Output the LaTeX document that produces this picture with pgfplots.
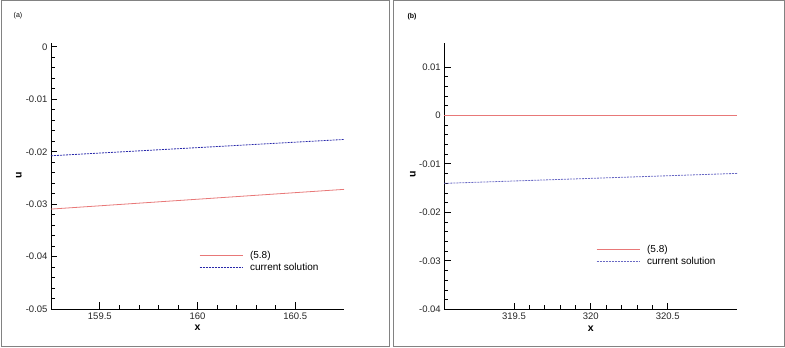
\documentclass[border=0pt]{standalone}
\usepackage{fontspec}
\setmainfont{Liberation Sans}
\usepackage{pgfplots}
\pgfplotsset{compat=1.18}
\definecolor{redl}{RGB}{232,120,120}
\definecolor{bluel}{RGB}{40,40,170}
\definecolor{frame}{RGB}{130,130,130}
\pgfplotsset{
  panel/.style={
    scale only axis,
    width=293pt,
    axis x line=bottom, axis y line=left,
    axis line style={-, black, line width=0.9pt},
    tick align=inside,
    major tick length=6.5pt, minor tick length=4pt,
    every tick/.style={black, line width=0.8pt},
    minor x tick num=4, minor y tick num=4,
    scaled y ticks=false, scaled x ticks=false,
    tick label style={font=\fontsize{9.5}{11}\selectfont, text=black!85},
    /pgf/number format/assume math mode=true,
    /pgf/number format/fixed,
    /pgf/number format/precision=3,
    xlabel={\textbf{x}},
    label style={font=\fontsize{10.5}{12}\selectfont},
    xlabel style={at={(rel axis cs:0.5,0)}, anchor=center, yshift=-19pt},
    legend style={draw=none, fill=none, font=\fontsize{10}{12}\selectfont,
      nodes={inner sep=1pt}, row sep=1pt, legend cell align=left},
    legend image code/.code={\draw[#1] (0pt,0pt) -- (43pt,0pt); \path (49pt,0pt);},
    clip=false,
  }
}
\begin{document}
\begin{tikzpicture}
\useasboundingbox (0,0) rectangle (785pt,348pt);
\draw[frame, line width=0.8pt] (1pt,1.5pt) rectangle (389.5pt,347.5pt);
\draw[frame, line width=0.8pt] (393.5pt,1.5pt) rectangle (784pt,347.5pt);
\node[font=\fontsize{7}{8}\selectfont] at (18pt,332pt) {(a)};
\node[font=\bfseries\fontsize{7}{8}\selectfont] at (412pt,331pt) {(b)};
\node[font=\bfseries\fontsize{10.5}{12}\selectfont, rotate=90] at (19pt,172.5pt) {u};
\node[font=\bfseries\fontsize{10.5}{12}\selectfont, rotate=90] at (413pt,174pt) {u};
\begin{axis}[panel,
  at={(51pt,39pt)}, anchor=south west, height=266.3pt,
  xmin=159.25, xmax=160.75, ymin=-0.05, ymax=0.0008,
  xtick={159.5,160,160.5}, ytick={-0.05,-0.04,-0.03,-0.02,-0.01,0},
  legend style={at={(rel axis cs:0.495,0.178)}, anchor=west},
]
\addplot[redl, line width=0.8pt] coordinates {(159.25,-0.03094) (160.75,-0.02718)};
\addlegendentry{(5.8)}
\addplot[bluel, line width=0.8pt, dash pattern=on 2pt off 1pt] coordinates {(159.25,-0.02077) (160.75,-0.01766)};
\addlegendentry{current solution}
\end{axis}
\begin{axis}[panel,
  at={(444.3pt,38.7pt)}, anchor=south west, height=266.6pt,
  xmin=319.047, xmax=320.953, ymin=-0.04, ymax=0.015,
  xtick={319.5,320,320.5}, ytick={-0.04,-0.03,-0.02,-0.01,0,0.01},
  legend style={at={(rel axis cs:0.508,0.202)}, anchor=west},
]
\addplot[redl, line width=0.8pt] coordinates {(319.047,0) (320.953,0)};
\addlegendentry{(5.8)}
\addplot[bluel!70!white, line width=0.8pt, dash pattern=on 2pt off 1pt] coordinates {(319.047,-0.01402) (320.953,-0.01196)};
\addlegendentry{current solution}
\end{axis}
\end{tikzpicture}
\end{document}
